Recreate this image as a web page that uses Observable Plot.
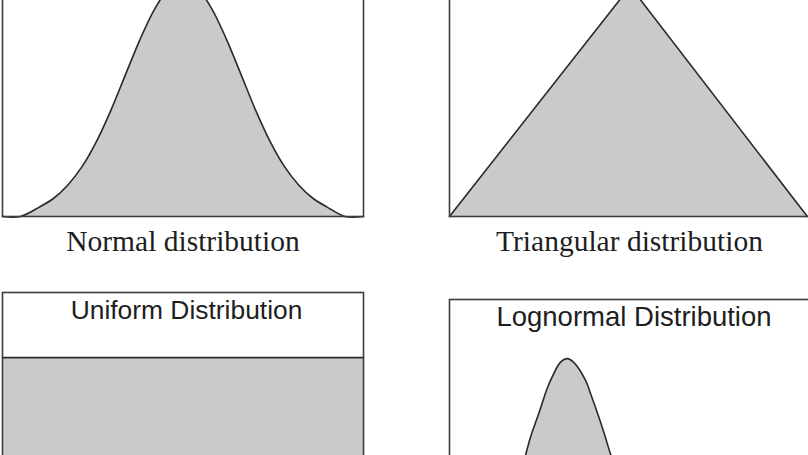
<!DOCTYPE html>
<html>
<head>
<meta charset="utf-8">
<script src="https://cdn.jsdelivr.net/npm/d3@7"></script>
<script src="https://cdn.jsdelivr.net/npm/@observablehq/plot@0.6"></script>
<style>
  body { margin: 0; background: #fff; }
  #wrap { position: relative; width: 808px; height: 455px; overflow: hidden; background: #fff; }
  #wrap svg { position: absolute; background: transparent !important; max-width: none !important; }
</style>
</head>
<body>
<div id="wrap"></div>
<script>
// Panel titles
const titles = ["Normal distribution", "Triangular distribution", "Uniform Distribution", "Lognormal Distribution"];

// Normal distribution curve (z, density)
const normalX = [-3.14, -2.83, -2.5, -2.25, -2.0, -1.75, -1.5, -1.25, -1.0, -0.75, -0.5, -0.25, 0, 0.25, 0.5, 0.75, 1.0, 1.25, 1.5, 1.75, 2.0, 2.25, 2.5, 2.81, 3.13];
const normalY = [0, 0, 0.016, 0.031, 0.054, 0.086, 0.129, 0.182, 0.242, 0.301, 0.352, 0.387, 0.399, 0.387, 0.352, 0.301, 0.242, 0.182, 0.129, 0.086, 0.054, 0.031, 0.016, 0, 0];

// Triangular distribution (x, density)
const triX = [0, 0.505, 1];
const triY = [0, 2, 0];

// Uniform distribution (x, density)
const uniX = [0, 1];
const uniY = [1, 1];

// Lognormal distribution (x, density)
const logX = [1.0, 1.4, 1.7, 1.9, 2.11, 2.25, 2.48, 2.71, 2.85, 3.08, 3.27, 3.45, 3.78, 3.92, 4.15, 4.33, 4.49, 4.8, 5.2, 5.7, 6.5, 7.5, 9.0];
const logY = [0, 0.012, 0.05, 0.1, 0.162, 0.202, 0.253, 0.307, 0.332, 0.364, 0.372, 0.364, 0.325, 0.296, 0.245, 0.202, 0.162, 0.11, 0.065, 0.035, 0.012, 0.003, 0];

const FILL = "#c9cacc";
const LINE = "#2a2a2a";
const FRAME = "#3c3c3c";
const SERIF = "'Liberation Serif', 'Times New Roman', serif";
const SANS = "'Liberation Sans', Arial, sans-serif";

const toRows = (xs, ys) => xs.map((x, i) => ({x, y: ys[i]}));

function panel({rows, xDomain, yDomain, width, height, margins, curve, title, titleOpts, pos}) {
  const chart = Plot.plot({
    width, height,
    marginTop: margins[0], marginRight: margins[1], marginBottom: margins[2], marginLeft: margins[3],
    x: {domain: xDomain, axis: null},
    y: {domain: yDomain, axis: null},
    style: {background: "transparent"},
    marks: [
      Plot.areaY(rows, {x: "x", y: "y", fill: FILL, curve}),
      Plot.lineY(rows, {x: "x", y: "y", stroke: LINE, strokeWidth: 1.6, curve}),
      Plot.frame({stroke: FRAME, strokeWidth: 1.6}),
      Plot.text([title], {text: d => d, ...titleOpts, fill: "#1e1e1e"})
    ]
  });
  chart.style.left = pos[0] + "px";
  chart.style.top = pos[1] + "px";
  document.getElementById("wrap").appendChild(chart);
}

// Normal
panel({
  rows: toRows(normalX, normalY), xDomain: [-3.14, 3.13], yDomain: [0, 0.435],
  width: 366, height: 316, margins: [10, 3, 50, 2], curve: "catmull-rom",
  title: titles[0],
  titleOpts: {frameAnchor: "bottom", lineAnchor: "bottom", dy: 34, fontSize: 29.5, fontFamily: SERIF},
  pos: [0, -50]
});

// Triangular
panel({
  rows: toRows(triX, triY), xDomain: [0, 1.006], yDomain: [0, 2.226],
  width: 366, height: 316, margins: [10, 3, 50, 3], curve: "linear",
  title: titles[1],
  titleOpts: {frameAnchor: "bottom", lineAnchor: "bottom", dy: 34, fontSize: 29.5, fontFamily: SERIF},
  pos: [446, -50]
});

// Uniform
panel({
  rows: toRows(uniX, uniY), xDomain: [0, 1], yDomain: [0, 1.4],
  width: 366, height: 232, margins: [2, 3, 2, 2], curve: "linear",
  title: titles[2],
  titleOpts: {frameAnchor: "top", lineAnchor: "bottom", dy: 26.3, dx: 3.5, fontSize: 26.4, fontFamily: SANS},
  pos: [0, 290]
});

// Lognormal
panel({
  rows: toRows(logX, logY), xDomain: [0, 10], yDomain: [0, 0.5],
  width: 366, height: 235, margins: [2, 3, 2, 3], curve: "catmull-rom",
  title: titles[3],
  titleOpts: {frameAnchor: "top", lineAnchor: "bottom", dy: 26.7, dx: 4.5, fontSize: 27.5, fontFamily: SANS},
  pos: [446, 297]
});
</script>
</body>
</html>
